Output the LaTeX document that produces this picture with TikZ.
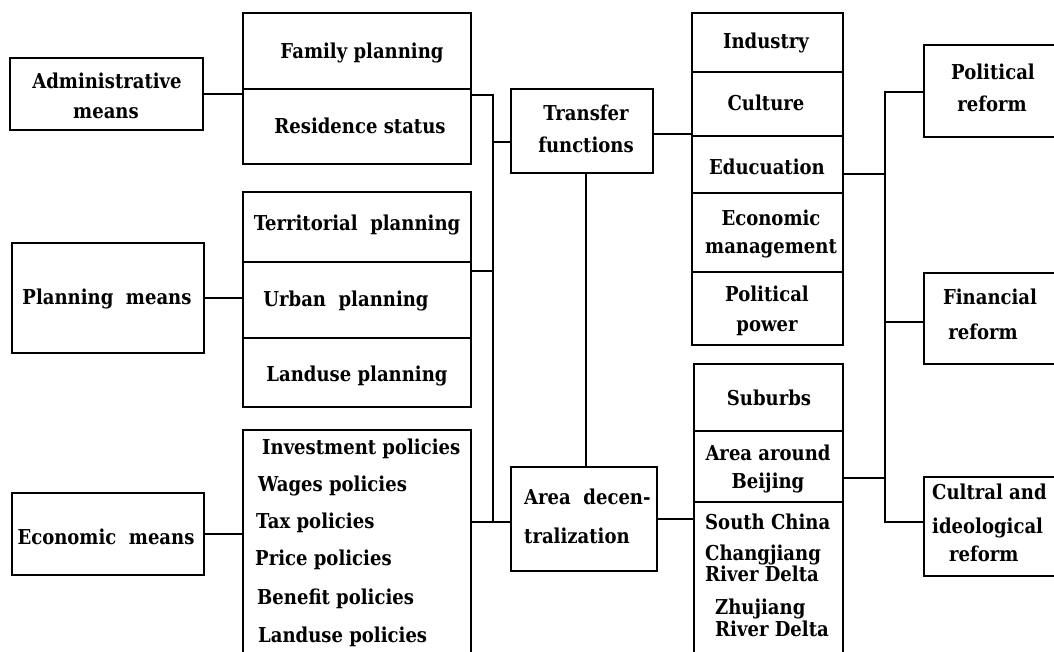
\documentclass[tikz,border=0pt]{standalone}
\usepackage{fontspec}
\setmainfont{DejaVu Serif}[FakeStretch=0.88]
\begin{document}
\begin{tikzpicture}[x=1pt,y=-1pt,
  box/.style={draw, line width=1.7pt, rectangle, inner sep=0pt},
  txt/.style={font=\bfseries\fontsize{20.5}{23}\selectfont, inner sep=0pt, anchor=mid, yshift=-4pt},
  txtl/.style={txt, anchor=mid west},
  wire/.style={line width=1.7pt}]
\useasboundingbox (0,0) rectangle (1054,652);

% ---- left column: the means ----
\node[box, minimum width=193pt, minimum height=72pt] (adm) at (106.5,94) {};
\node[box, minimum width=192pt, minimum height=110pt] (pln) at (108,298) {};
\node[box, minimum width=192pt, minimum height=82pt] (eco) at (108,534) {};
\node[txt] (admA) at (107,82) {Administrative};
\node[txt] (admB) at (106,112) {means};
\node[txt] (plnT) at (107,298) {Planning~ means};
\node[txt] (ecoT) at (106,538) {Economic~ means};

% ---- second column: the measures ----
\node[box, minimum width=228pt, minimum height=76pt] (fam) at (357,51) {};
\node[box, minimum width=228pt, minimum height=75pt] (res) at (357,126.5) {};
\node[box, minimum width=228pt, minimum height=70pt] (ter) at (357,227) {};
\node[box, minimum width=228pt, minimum height=76pt] (urb) at (357,300) {};
\node[box, minimum width=228pt, minimum height=69pt] (lnd) at (357,372.5) {};
\node[box, minimum width=228pt, minimum height=232pt] (pol) at (357,546) {};
\node[txt] (famT) at (362,52) {Family planning};
\node[txt] (resT) at (360,127) {Residence status};
\node[txt] (terT) at (357,224) {Territorial~ planning};
\node[txt] (urbT) at (346,300) {Urban~ planning};
\node[txt] (lndT) at (357,375) {Landuse planning};
\node[txtl] (polA) at (262,448) {Investment policies};
\node[txtl] (polB) at (258,485) {Wages policies};
\node[txtl] (polC) at (256,522) {Tax policies};
\node[txtl] (polD) at (255,559) {Price policies};
\node[txtl] (polE) at (257,598) {Benefit policies};
\node[txtl] (polF) at (258,636) {Landuse policies};

% ---- third column ----
\node[box, minimum width=142pt, minimum height=84pt] (trf) at (582,131) {};
\node[box, minimum width=146pt, minimum height=104pt] (ara) at (584,519) {};
\node[txt] (trfA) at (586,114) {Transfer};
\node[txt] (trfB) at (586,146) {functions};
\node[txtl] (araA) at (524,498) {Area~ decen-};
\node[txtl] (araB) at (524,537) {tralization};

% ---- fourth column: functions and areas ----
\node[box, minimum width=151pt, minimum height=59pt] (ind) at (767.5,42.5) {};
\node[box, minimum width=151pt, minimum height=64pt] (cul) at (767.5,104) {};
\node[box, minimum width=151pt, minimum height=57pt] (edu) at (767.5,164.5) {};
\node[box, minimum width=151pt, minimum height=79pt] (ecm) at (767.5,232.5) {};
\node[box, minimum width=151pt, minimum height=73pt] (pow) at (767.5,308.5) {};
\node[box, minimum width=149pt, minimum height=67pt] (sub) at (768.5,397.5) {};
\node[box, minimum width=149pt, minimum height=71pt] (abj) at (768.5,466.5) {};
\node[box, minimum width=149pt, minimum height=160pt] (sth) at (768.5,582) {};
\node[txt] (indT) at (766,42) {Industry};
\node[txt] (culT) at (766,104) {Culture};
\node[txt] (eduT) at (767,168) {Educuation};
\node[txt] (ecmA) at (771,219) {Economic};
\node[txt] (ecmB) at (771,247) {management};
\node[txt] (powA) at (767,295) {Political};
\node[txt] (powB) at (767,325) {power};
\node[txt] (subT) at (769,399) {Suburbs};
\node[txt] (abjA) at (768,454) {Area around};
\node[txt] (abjB) at (768,482) {Beijing};
\node[txtl] (sthA) at (705,523) {South China};
\node[txtl] (sthB) at (705,554) {Changjiang};
\node[txtl] (sthC) at (705,575) {River Delta};
\node[txtl] (sthD) at (715,608) {Zhujiang};
\node[txtl] (sthE) at (715,630) {River Delta};

% ---- right column: reforms ----
\node[box, minimum width=140pt, minimum height=92pt] (prf) at (994,91) {};
\node[box, minimum width=140pt, minimum height=91pt] (frf) at (994,318.5) {};
\node[box, minimum width=140pt, minimum height=99pt] (crf) at (994,526.5) {};
\node[txt] (prfA) at (993,73) {Political};
\node[txt] (prfB) at (992,105) {reform};
\node[txt] (frfA) at (990,298) {Financial};
\node[txt] (frfB) at (983,333) {reform};
\node[txtl] (crfA) at (932,493) {Cultral and};
\node[txtl] (crfB) at (932,527) {ideological};
\node[txtl] (crfC) at (949,555) {reform};

% ---- connectors, left bus ----
\coordinate (lbA) at (493,95);
\coordinate (lbB) at (493,142);
\coordinate (lbC) at (493,271);
\coordinate (lbD) at (493,522);
\draw[wire] (adm.east) -- (adm.east -| res.west);
\draw[wire] (pln.east) -- (pln.east -| urb.west);
\draw[wire] (eco.east) -- (eco.east -| pol.west);
\draw[wire] (lbA -| res.east) -- (lbA) -- (lbD);
\draw[wire] (lbC -| urb.east) -- (lbC);
\draw[wire] (lbB) -- (lbB -| trf.west);
\draw[wire] (lbD -| pol.east) -- (lbD -| ara.west);

% ---- connectors, middle ----
\coordinate (tv) at (586,0);
\coordinate (tc) at (0,134);
\draw[wire] (trf.south -| tv) -- (ara.north -| tv);
\draw[wire] (tc -| trf.east) -- (tc -| cul.west);
\draw[wire] (ara.east) -- (ara.east -| sth.west);

% ---- connectors, right bus ----
\coordinate (rbA) at (885,92);
\coordinate (rbB) at (885,174);
\coordinate (rbC) at (885,322);
\coordinate (rbD) at (885,478);
\coordinate (rbE) at (885,522);
\draw[wire] (rbA -| prf.west) -- (rbA) -- (rbE) -- (rbE -| crf.west);
\draw[wire] (rbB -| edu.east) -- (rbB);
\draw[wire] (rbC) -- (rbC -| frf.west);
\draw[wire] (rbD -| abj.east) -- (rbD);
\end{tikzpicture}
\end{document}
